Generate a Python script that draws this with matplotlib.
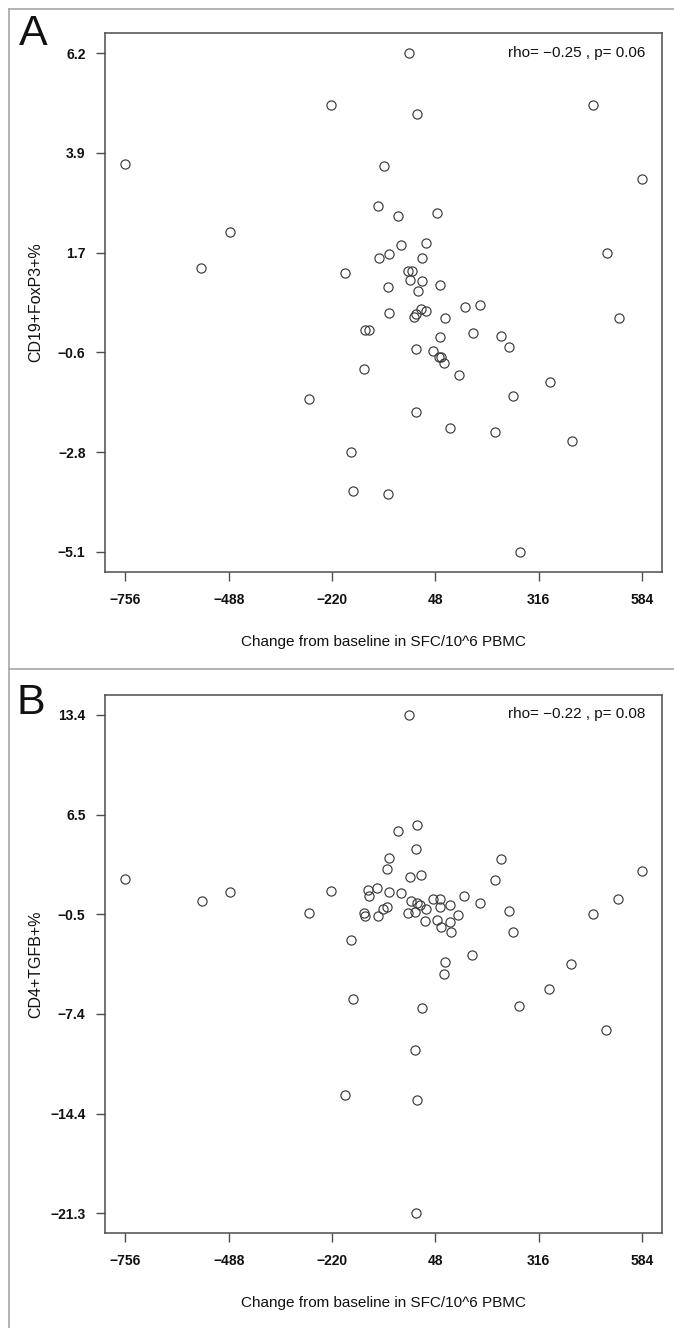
import numpy as np
import matplotlib
matplotlib.use("Agg")
import matplotlib.pyplot as plt
from matplotlib.lines import Line2D

plt.rcParams['font.family'] = ['Liberation Sans', 'DejaVu Sans']

# ---------------- data ----------------
# Panel A: change from baseline (SFC/10^6 PBMC) vs CD19+FoxP3+%
a_x = [-20.8, -222.4, 0.3, 457, -756, -84.3, 584, -101, -47.6, 53.8,
       -484.2, -42, 23.7, 492.7, -71, -97.7, 14.8, -558.8, -186.8, -23,
       -12, -18.6, 12.6, -75.4, 60.5, 3.7, 124, 165.2, -73.2, 10.4,
       24.8, -7.5, -0.8, 72.7, 523.9, -133.3, -124.4, 145.1, 218.7, 59.4,
       238.7, -3, 42.7, 57.1, 64, 71.6, -135.6, 109.5, 345.6, 251,
       -279.3, -1.9, 87.2, 203, 402.5, -170.1, -165.6, -75.4, 266.6]
a_y = [6.2, 5.03, 4.83, 5.03, 3.70, 3.64, 3.36, 2.74, 2.51, 2.57,
       2.15, 1.86, 1.91, 1.68, 1.66, 1.55, 1.55, 1.33, 1.21, 1.26,
       1.26, 1.06, 1.03, 0.91, 0.95, 0.82, 0.45, 0.49, 0.31, 0.40,
       0.36, 0.23, 0.29, 0.20, 0.20, -0.08, -0.08, -0.14, -0.22, -0.24,
       -0.46, -0.50, -0.54, -0.69, -0.69, -0.83, -0.95, -1.10, -1.26, -1.57,
       -1.64, -1.93, -2.29, -2.38, -2.58, -2.83, -3.72, -3.79, -5.1]

# Panel B: change from baseline (SFC/10^6 PBMC) vs CD4+TGFB+%
b_x = [-21, 0.2, -48.8, -3.2, -72.1, 218.1, -76.6, 584, -18.7, 10.2,
       -756, 202.5, -485.8, -223.4, -126.6, -102.1, -124.4, -73.2, -42.1, -558.1,
       123.6, 521.7, 42.4, 59.1, -14.3, 0.2, 163.6, 9.1, 86.9, 59.1,
       23.5, -76.6, -87.7, 238.1, -136.6, -133.2, -279, -99.9, -23.2, -4.3,
       108, 456, 22.4, 53.5, 86.9, 63.5, 89.1, 250.4, -171.1, 143.6,
       72.4, 400.5, 71.3, 343.8, -165.5, 13.5, 265.9, 491.7, -4.3, -186.7,
       0.2, -3.2]
b_y = [13.4, 5.72, 5.35, 4.08, 3.47, 3.38, 2.70, 2.54, 2.12, 2.28,
       1.98, 1.89, 1.05, 1.15, 1.24, 1.36, 0.80, 1.08, 1.03, 0.42,
       0.82, 0.61, 0.61, 0.61, 0.42, 0.33, 0.31, 0.19, 0.14, 0.03,
       -0.09, 0.03, -0.09, -0.28, -0.39, -0.58, -0.42, -0.58, -0.37, -0.35,
       -0.56, -0.46, -0.95, -0.88, -1.02, -1.37, -1.69, -1.69, -2.25, -3.30,
       -3.81, -3.91, -4.67, -5.67, -6.37, -6.98, -6.88, -8.53, -9.95, -13.09,
       -13.44, -21.3]

x_tick_labels = ["\u2212756", "\u2212488", "\u2212220", "48", "316", "584"]
a_y_tick_labels = ["\u22125.1", "\u22122.8", "\u22120.6", "1.7", "3.9", "6.2"]
b_y_tick_labels = ["\u221221.3", "\u221214.4", "\u22127.4", "\u22120.5", "6.5", "13.4"]

x_label = "Change from baseline in SFC/10^6 PBMC"
a_y_label = "CD19+FoxP3+%"
b_y_label = "CD4+TGFB+%"
a_stat = "rho= \u22120.25 , p= 0.06"
b_stat = "rho= \u22120.22 , p= 0.08"

# ---------------- figure ----------------
W, H = 674, 1328
fig = plt.figure(figsize=(W / 100, H / 100), dpi=100)
fig.patch.set_facecolor("white")

AX_COL = "#4d4d4d"


def lab2num(s):
    return float(s.replace("\u2212", "-"))


def panel(rect, xs, ys, ytl, ylab, stat):
    ax = fig.add_axes(rect)
    xt = np.linspace(lab2num(x_tick_labels[0]), lab2num(x_tick_labels[-1]), len(x_tick_labels))
    yt = np.linspace(lab2num(ytl[0]), lab2num(ytl[-1]), len(ytl))
    xr = xt[-1] - xt[0]
    yr = yt[-1] - yt[0]
    ax.set_xlim(xt[0] - 0.04 * xr, xt[-1] + 0.04 * xr)
    ax.set_ylim(yt[0] - 0.04 * yr, yt[-1] + 0.04 * yr)
    ax.plot(xs, ys, linestyle="none", marker="o", markersize=6.6,
            markerfacecolor="none", markeredgecolor="#3a3a3a", markeredgewidth=0.85)
    ax.set_xticks(xt)
    ax.set_xticklabels(x_tick_labels, fontsize=10, fontweight="bold")
    ax.set_yticks(yt)
    ax.set_yticklabels(ytl, fontsize=10, fontweight="bold")
    ax.tick_params(axis="x", direction="out", length=6.2, width=1.0, color=AX_COL, pad=9,
                   labelcolor="#111111")
    ax.tick_params(axis="y", direction="out", length=6.8, width=1.0, color=AX_COL, pad=7,
                   labelcolor="#111111")
    for sp in ax.spines.values():
        sp.set_color(AX_COL)
        sp.set_linewidth(1.1)
    ax.set_xlabel(x_label, fontsize=11, color="#111111")
    ax.xaxis.label.set_va("center")
    ax.xaxis.set_label_coords(0.5, -0.130)
    ax.set_ylabel(ylab, fontsize=11.5, color="#111111")
    ax.yaxis.label.set_va("center")
    ax.yaxis.set_label_coords(-0.124, 0.5)
    ax.text(0.969, 0.964, stat, transform=ax.transAxes, ha="right", va="center",
            fontsize=11, color="#111111")
    return ax


left = 104.7 / W
width = (662.5 - 104.7) / W
axA = panel([left, 1 - 571.7 / H, width, (571.7 - 33.3) / H], a_x, a_y,
            a_y_tick_labels, a_y_label, a_stat)
axB = panel([left, 1 - 1233.3 / H, width, (1233.3 - 695.0) / H], b_x, b_y,
            b_y_tick_labels, b_y_label, b_stat)

# panel letters
fig.text(19 / W, 1 - 45 / H, "A", fontsize=31, ha="left", va="baseline", color="#111111")
fig.text(16 / W, 1 - 714 / H, "B", fontsize=31, ha="left", va="baseline", color="#111111")

# panel frames
FR = "#a6a6a6"
fx0 = 8.6 / W
for yy in (9.3, 669.3):
    fig.add_artist(Line2D([fx0, 1.0], [1 - yy / H, 1 - yy / H], transform=fig.transFigure,
                          color=FR, linewidth=1.2))
fig.add_artist(Line2D([fx0, fx0], [1 - 9.3 / H, 0.0], transform=fig.transFigure,
                      color=FR, linewidth=1.2))

fig.savefig("out.png", dpi=100)
